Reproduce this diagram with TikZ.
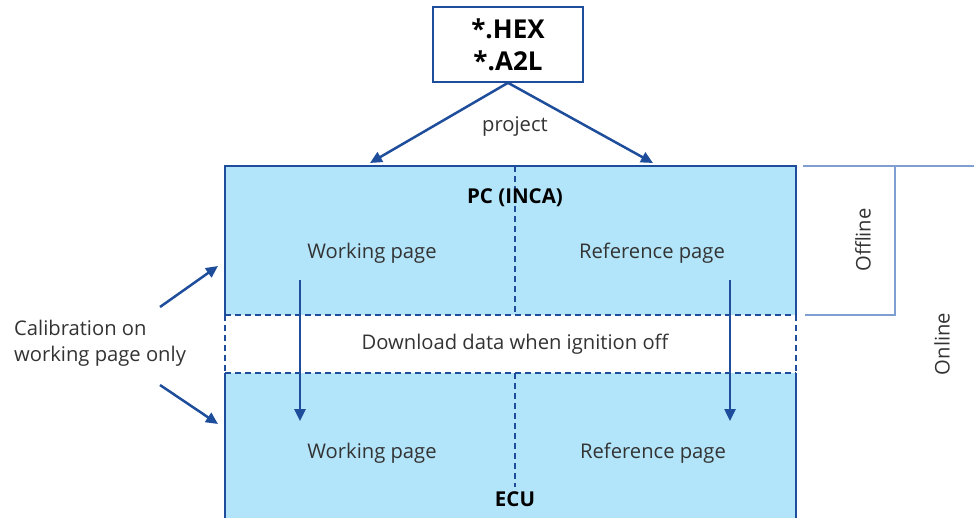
\documentclass[tikz,border=0pt]{standalone}
\usepackage{fontspec}
\setmainfont{Open Sans}
\usetikzlibrary{arrows.meta}
\definecolor{dblue}{HTML}{1E4D9B}
\definecolor{lblue}{HTML}{B3E5FA}
\definecolor{gblue}{HTML}{7F9FD2}
\definecolor{tgray}{HTML}{333333}
\tikzset{
  box/.style={draw=dblue, line width=1.6pt},
  dsh/.style={draw=dblue, line width=1.3pt, dash pattern=on 6pt off 4pt},
  arr/.style={draw=dblue, line width=2.5pt, -{Triangle[length=12pt,width=11pt]}},
  lbl/.style={text=tgray, font=\fontsize{20.2}{26}\selectfont, inner sep=0pt},
  blbl/.style={text=black, font=\fontsize{20.5}{26}\selectfont\bfseries, inner sep=0pt},
  brk/.style={draw=gblue, line width=1.2pt}
}
\begin{document}
\begin{tikzpicture}[x=1pt,y=1pt]
\useasboundingbox (0,0) rectangle (974,517);
\clip (0,0) rectangle (974,517);
% fills
\fill[lblue] (225,202) rectangle (796,351);
\fill[lblue] (225,-5) rectangle (796,144);
% top box outline
\draw[box] (225,202) -- (225,351) -- (796,351) -- (796,202);
\draw[box] (225,-5) -- (225,144);
\draw[box] (796,-5) -- (796,144);
% dashed
\draw[dsh] (225,202) -- (796,202);
\draw[dsh] (225,144) -- (796,144);
\draw[dsh] (225,202) -- (225,144);
\draw[dsh] (796,202) -- (796,144);
\draw[dsh] (515,351) -- (515,202);
\draw[dsh] (515,144) -- (515,30);
% top file node
\node[box, draw=dblue, fill=white, minimum width=150pt, minimum height=75pt, inner sep=0pt,
      align=center, font=\fontsize{26}{32}\selectfont\bfseries] (files) at (508,472.5) {*.HEX\\*.A2L};
\coordinate (wpt) at (370,354);
\coordinate (rpt) at (653,354);
\draw[arr] (files.south) -- (wpt);
\draw[arr] (files.south) -- (rpt);
\node[lbl] (proj) at (515,390) {project};
% labels
\node[blbl] (pc) at (515,319) {PC (INCA)};
\node[lbl] (wp1) at (372,264) {Working page};
\node[lbl] (rp1) at (652,264) {Reference page};
\node[lbl] (dl) at (515,173) {Download data when ignition off};
\node[lbl] (wp2) at (372,64) {Working page};
\node[lbl] (rp2) at (653,64) {Reference page};
\node[blbl] (ecu) at (515,18) {ECU};
% down arrows
\coordinate (w1) at (300,237);
\coordinate (w2) at (300,96);
\coordinate (r1) at (730,237);
\coordinate (r2) at (730,96);
\draw[arr] (w1) -- (w2);
\draw[arr] (r1) -- (r2);
% calibration
\node[lbl, align=left, anchor=west] (cal) at (14,174) {Calibration on\\working page only};
\coordinate (c1s) at (160,210);
\coordinate (c1e) at (218,251);
\coordinate (c2s) at (160,132);
\coordinate (c2e) at (218,93);
\draw[arr] (c1s) -- (c1e);
\draw[arr] (c2s) -- (c2e);
% offline / online bracket
\coordinate (b1) at (803,351);
\coordinate (b2) at (974,351);
\coordinate (b3) at (895,351);
\coordinate (b4) at (895,202);
\coordinate (b5) at (805,202);
\draw[brk] (b1) -- (b2);
\draw[brk] (b3) -- (b4) -- (b5);
\node[lbl, rotate=90] (off) at (863,277) {Offline};
\node[lbl, rotate=90] (on) at (942,173) {Online};
\end{tikzpicture}
\end{document}
